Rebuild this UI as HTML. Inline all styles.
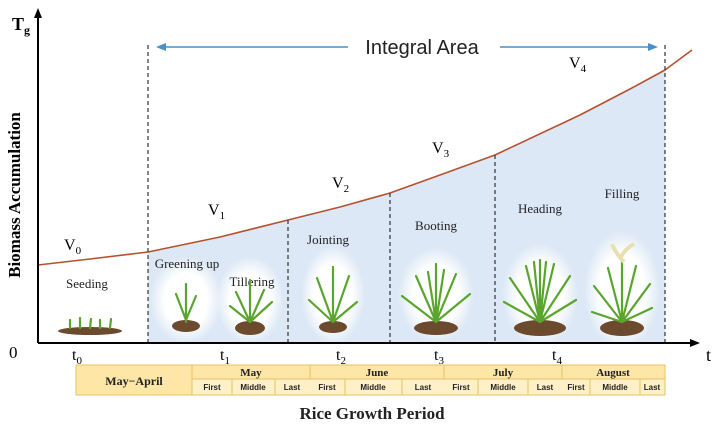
<!DOCTYPE html>
<html><head><meta charset="utf-8"><style>
body{margin:0;background:#fff}
svg{display:block;font-family:"Liberation Serif",serif}
</style></head><body>
<svg width="720" height="428" viewBox="0 0 720 428">
<defs>
<radialGradient id="g" cx="50%" cy="50%" r="50%"><stop offset="0.6" stop-color="#fff"/><stop offset="1" stop-color="#fff" stop-opacity="0"/></radialGradient>
</defs>
<path d="M148,252 L220,237 L288,220 L340,207 L390,193 L440,175 L495,155 L580,115 L665,70 L665,343 L148,343 Z" fill="#dce8f5"/>
<g fill="url(#g)">
<ellipse cx="186" cy="300" rx="36" ry="44"/><ellipse cx="250" cy="300" rx="34" ry="44"/>
<ellipse cx="333" cy="295" rx="32" ry="50"/><ellipse cx="436" cy="295" rx="38" ry="48"/>
<ellipse cx="540" cy="295" rx="38" ry="52"/><ellipse cx="622" cy="290" rx="38" ry="60"/>
</g>
<polyline points="38,265 90,259 148,252 220,237 288,220 340,207 390,193 440,175 495,155 580,115 630,89 665,70 692,50" fill="none" stroke="#b5522e" stroke-width="1.6" stroke-linejoin="round"/>
<g stroke="#333" stroke-width="1.2" stroke-dasharray="4,3">
<line x1="148" y1="45" x2="148" y2="343"/><line x1="288" y1="220" x2="288" y2="343"/>
<line x1="390" y1="193" x2="390" y2="343"/><line x1="495" y1="155" x2="495" y2="343"/>
<line x1="665" y1="45" x2="665" y2="343"/>
</g>
<g stroke="#4a8fc6" stroke-width="1.5">
<line x1="160" y1="47" x2="348" y2="47"/><line x1="500" y1="47" x2="650" y2="47"/>
</g>
<path d="M156,47 L166,43 L166,51Z M658,47 L648,43 L648,51Z" fill="#4a8fc6"/>
<text x="422" y="54" font-size="20" text-anchor="middle" font-family="Liberation Sans,sans-serif" fill="#222">Integral Area</text>
<line x1="38" y1="343" x2="38" y2="14" stroke="#000" stroke-width="2"/>
<path d="M38,8 L34,18 L42,18Z" fill="#000"/>
<line x1="38" y1="343" x2="692" y2="343" stroke="#000" stroke-width="2"/>
<path d="M700,343 L690,339 L690,347Z" fill="#000"/>
<text x="12" y="30" font-size="18" font-weight="bold">T<tspan font-size="12" dy="4">g</tspan></text>
<text transform="translate(20,195) rotate(-90)" font-size="17" font-weight="bold" text-anchor="middle">Biomass Accumulation</text>
<text x="9" y="358" font-size="17">0</text>
<text x="706" y="361" font-size="18">t</text>
<g font-size="16">
<text x="72" y="360">t<tspan font-size="11" dy="4">0</tspan></text>
<text x="220" y="360">t<tspan font-size="11" dy="4">1</tspan></text>
<text x="336" y="360">t<tspan font-size="11" dy="4">2</tspan></text>
<text x="434" y="360">t<tspan font-size="11" dy="4">3</tspan></text>
<text x="552" y="360">t<tspan font-size="11" dy="4">4</tspan></text>
<text x="64" y="250">V<tspan font-size="11" dy="4">0</tspan></text>
<text x="208" y="215">V<tspan font-size="11" dy="4">1</tspan></text>
<text x="332" y="188">V<tspan font-size="11" dy="4">2</tspan></text>
<text x="432" y="153">V<tspan font-size="11" dy="4">3</tspan></text>
<text x="569" y="68">V<tspan font-size="11" dy="4">4</tspan></text>
</g>
<g font-size="13" fill="#222" text-anchor="middle">
<text x="87" y="288">Seeding</text><text x="187" y="268">Greening up</text>
<text x="252" y="286">Tillering</text><text x="328" y="244">Jointing</text>
<text x="436" y="230">Booting</text><text x="540" y="213">Heading</text>
<text x="622" y="198">Filling</text>
</g>
<g fill="#6b4a2e">
<ellipse cx="90" cy="331" rx="32" ry="4"/>
<ellipse cx="186" cy="326" rx="14" ry="6"/><ellipse cx="250" cy="328" rx="15" ry="7"/>
<ellipse cx="333" cy="327" rx="14" ry="6"/><ellipse cx="436" cy="328" rx="22" ry="7"/>
<ellipse cx="540" cy="328" rx="26" ry="8"/><ellipse cx="622" cy="328" rx="22" ry="8"/>
</g>
<g stroke="#5aa52e" stroke-width="2.2" fill="none" stroke-linecap="round">
<path d="M70,328 l0,-8 M80,328 l0,-10 M90,328 l1,-9 M100,328 l0,-8 M110,328 l1,-9"/>
<path d="M186,322 l0,-38 M186,320 l-10,-26 M186,320 l10,-24"/>
<path d="M250,322 l0,-42 M250,322 l-14,-30 M250,322 l14,-32 M250,322 l22,-20 M250,322 l-20,-16"/>
<path d="M333,322 l0,-55 M333,322 l-16,-44 M333,322 l16,-46 M333,322 l-24,-22 M333,322 l24,-20"/>
<path d="M436,322 l0,-58 M436,322 l-20,-46 M436,322 l20,-48 M436,322 l-34,-26 M436,322 l34,-28 M436,322 l-8,-50 M436,322 l8,-52"/>
<path d="M540,322 l0,-62 M540,322 l-14,-56 M540,322 l14,-58 M540,322 l-30,-44 M540,322 l30,-46 M540,322 l-36,-20 M540,322 l36,-22 M540,322 l-6,-60 M540,322 l6,-60"/>
<path d="M622,322 l0,-62 M622,322 l-14,-54 M622,322 l14,-56 M622,322 l-28,-36 M622,322 l28,-38 M622,322 l-30,-10 M622,322 l30,-14"/>
</g>
<path d="M620,258 q6,-10 14,-14 M624,262 q-8,-8 -12,-18" stroke="#e8e0b0" stroke-width="4" fill="none"/>
<g stroke="#e7c263" stroke-width="1" fill="#fde6a6">
<rect x="76" y="365" width="589" height="30" fill="#fde3a0"/>
<rect x="76" y="365" width="116" height="30"/>
<rect x="192" y="365" width="118" height="14"/><rect x="310" y="365" width="134" height="14"/>
<rect x="444" y="365" width="118" height="14"/><rect x="562" y="365" width="103" height="14"/>
<rect x="192" y="379" width="473" height="16" fill="#fff0c8"/>
</g>
<g stroke="#e7c263" stroke-width="1">
<line x1="232" y1="379" x2="232" y2="395"/><line x1="275" y1="379" x2="275" y2="395"/>
<line x1="345" y1="379" x2="345" y2="395"/><line x1="402" y1="379" x2="402" y2="395"/>
<line x1="478" y1="379" x2="478" y2="395"/><line x1="528" y1="379" x2="528" y2="395"/>
<line x1="590" y1="379" x2="590" y2="395"/><line x1="640" y1="379" x2="640" y2="395"/>
</g>
<g font-weight="bold" text-anchor="middle" fill="#222">
<text x="134" y="385" font-size="12">May−April</text>
<g font-size="11"><text x="251" y="376">May</text><text x="377" y="376">June</text><text x="503" y="376">July</text><text x="613" y="376">August</text></g>
<g font-size="8" font-family="Liberation Sans,sans-serif">
<text x="212" y="390">First</text><text x="253" y="390">Middle</text><text x="292" y="390">Last</text>
<text x="327" y="390">First</text><text x="373" y="390">Middle</text><text x="423" y="390">Last</text>
<text x="461" y="390">First</text><text x="503" y="390">Middle</text><text x="545" y="390">Last</text>
<text x="576" y="390">First</text><text x="615" y="390">Middle</text><text x="652" y="390">Last</text>
</g>
<text x="372" y="419" font-size="17">Rice Growth Period</text>
</g>
</svg>
</body></html>
